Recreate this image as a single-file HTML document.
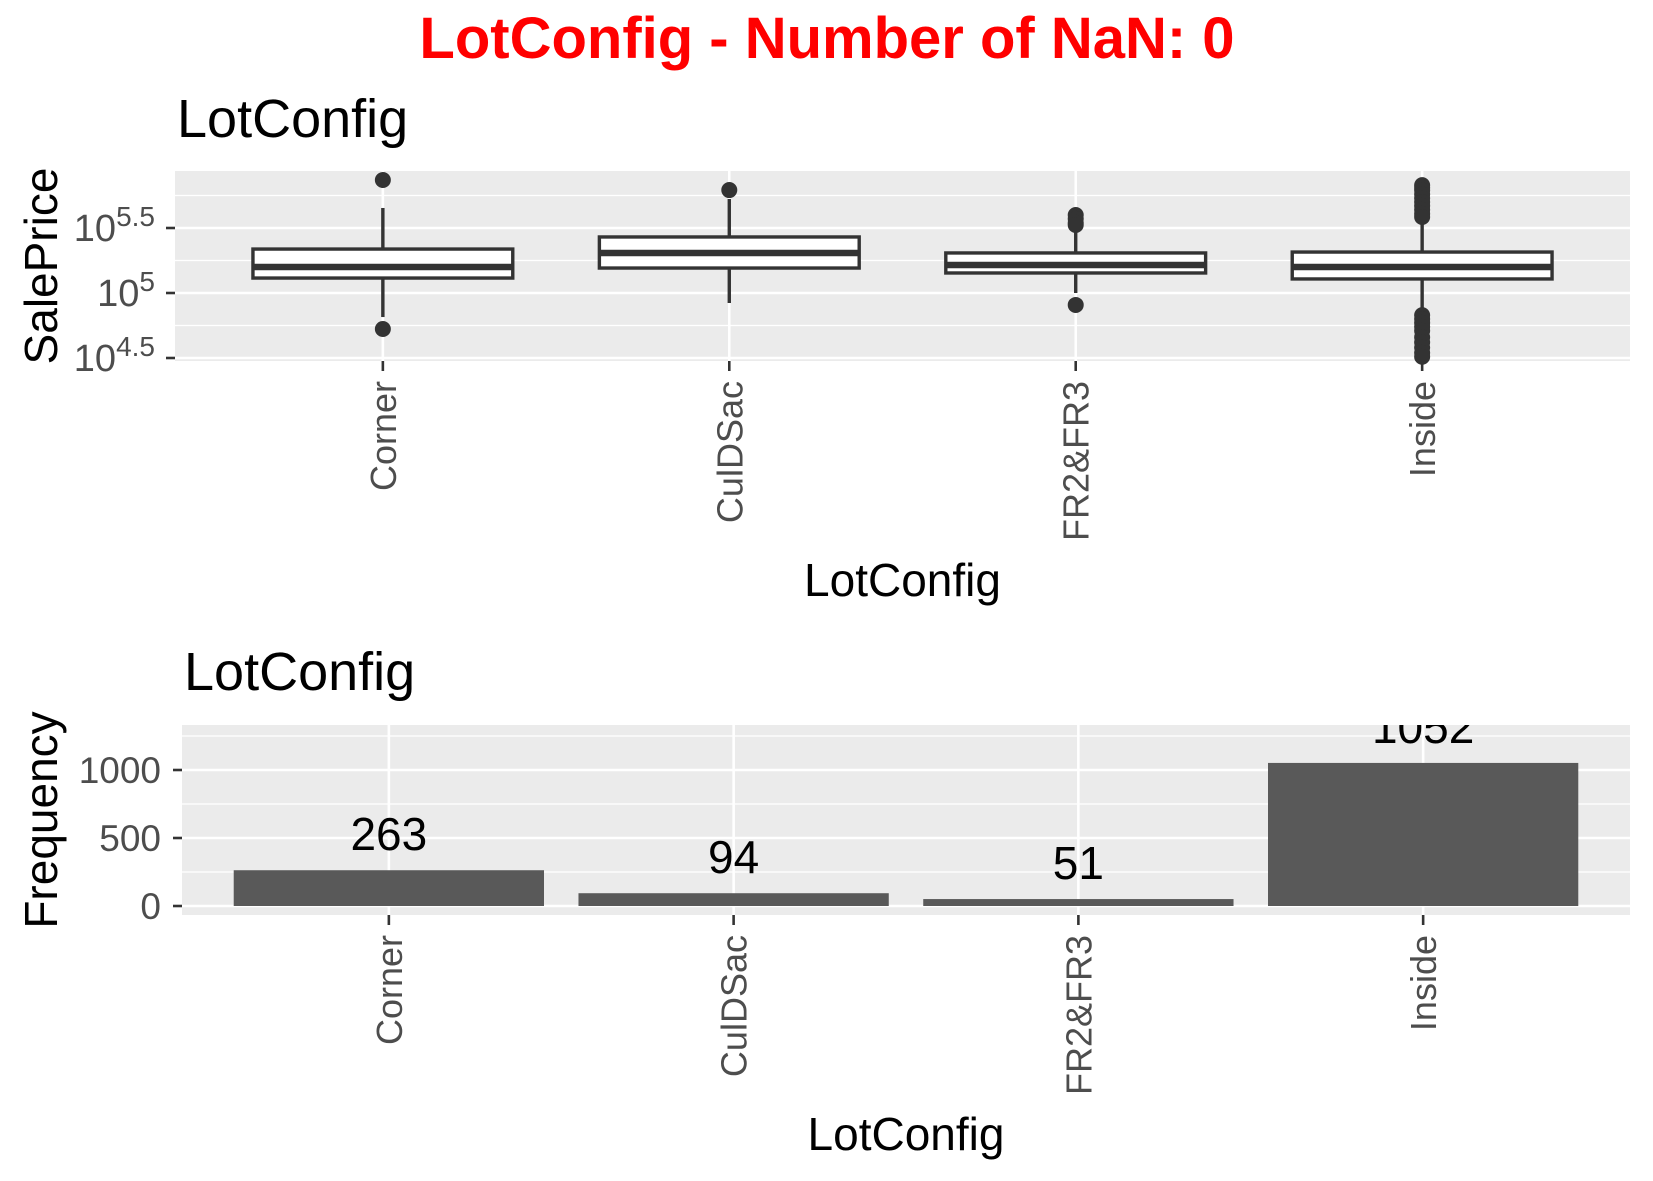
<!DOCTYPE html>
<html><head><meta charset="utf-8"><style>
html,body{margin:0;padding:0;background:#fff;}
svg{display:block;font-family:"Liberation Sans",Arial,sans-serif;}
</style></head><body>
<svg id="chart" width="1653" height="1181" viewBox="0 0 1653 1181" xmlns="http://www.w3.org/2000/svg">
<text x="827" y="58" text-anchor="middle" font-weight="bold" font-size="58" fill="#ff0000">LotConfig - Number of NaN: 0</text>
<g id="box"></g>
<g id="bar"></g>
</svg>
<script>
const categories = ["Corner","CulDSac","FR2&FR3","Inside"];
// log10 SalePrice box stats
const q1 = [5.115, 5.192, 5.154, 5.108];
const med = [5.20, 5.308, 5.215, 5.20];
const q3 = [5.338, 5.431, 5.308, 5.315];
const wLow = [4.815, 4.923, 5.0, 4.846];
const wHigh = [5.654, 5.723, 5.469, 5.577];
const outliers = [
  [5.869, 4.723],
  [5.792],
  [5.60, 5.57, 5.54, 5.523, 4.908],
  [5.83, 5.81, 5.79, 5.76, 5.73, 5.70, 5.67, 5.64, 5.61, 5.585, 4.83, 4.80, 4.77, 4.74, 4.71, 4.66, 4.62, 4.58, 4.54, 4.51]
];
const boxTicks = [4.5, 5, 5.5];
const boxTickLabels = ["4.5", "5", "5.5"];
const counts = [263, 94, 51, 1052];
const barTicks = [0, 500, 1000];
const barTickLabels = ["0", "500", "1000"];

const NS = "http://www.w3.org/2000/svg";
function mk(parent, tag, attrs, text) {
  const e = document.createElementNS(NS, tag);
  for (const k in attrs) e.setAttribute(k, attrs[k]);
  if (text !== undefined) e.textContent = text;
  parent.appendChild(e);
  return e;
}

// ---------- Box panel ----------
const box = document.getElementById('box');
const B = {l:175, r:1630, t:171, b:361};
const byScale = v => 293 - (v - 5) * 130;
const bxUnit = (B.r - B.l) / 4.2;
const bx = i => B.l + (0.6 + i) * bxUnit;
let t = mk(box, 'text', {x:177, y:137, 'font-size':54, fill:'#000'}, 'LotConfig');


let bg = mk(box, 'rect', {x:B.l, y:B.t, width:B.r-B.l, height:B.b-B.t, fill:'#ebebeb'});


boxTicks.forEach(v => {
  const m = byScale(v + 0.25);
  if (m > B.t) mk(box, 'line', {x1:B.l, x2:B.r, y1:m, y2:m, stroke:'#fff', 'stroke-width':1.3});
});
boxTicks.forEach((v, i) => {
  const y = byScale(v);
  const g = mk(box, 'line', {x1:B.l, x2:B.r, y1:y, y2:y, stroke:'#fff', 'stroke-width':2.6});
  
  
  mk(box, 'line', {x1:B.l-9, x2:B.l, y1:y, y2:y, stroke:'#333', 'stroke-width':2.6});
  const tx = mk(box, 'text', {x:155, y:y+13, 'font-size':38, fill:'#4d4d4d', 'text-anchor':'end'});
  tx.appendChild(document.createTextNode('10'));
  mk(tx, 'tspan', {dy:-15, 'font-size':28}, boxTickLabels[i]);
  
  
});
categories.forEach((c, i) => {
  const x = bx(i);
  mk(box, 'line', {x1:x, x2:x, y1:B.t, y2:B.b, stroke:'#fff', 'stroke-width':2.6});
  mk(box, 'line', {x1:x, x2:x, y1:B.b, y2:B.b+10, stroke:'#333', 'stroke-width':2.6});
  const lb = mk(box, 'text', {transform:`translate(${x+13},381) rotate(-90)`, 'font-size':36, fill:'#4d4d4d', 'text-anchor':'end'}, c);
  
  
});
categories.forEach((c, i) => {
  const x = bx(i), w = bxUnit * 0.75;
  const g = mk(box, 'g', {});
  
  
  mk(g, 'line', {x1:x, x2:x, y1:byScale(wHigh[i]), y2:byScale(q3[i]), stroke:'#333', 'stroke-width':3.4});
  mk(g, 'line', {x1:x, x2:x, y1:byScale(q1[i]), y2:byScale(wLow[i]), stroke:'#333', 'stroke-width':3.4});
  mk(g, 'rect', {x:x-w/2, y:byScale(q3[i]), width:w, height:byScale(q1[i])-byScale(q3[i]), fill:'#fff', stroke:'#333', 'stroke-width':3.4});
  mk(g, 'line', {x1:x-w/2, x2:x+w/2, y1:byScale(med[i]), y2:byScale(med[i]), stroke:'#333', 'stroke-width':6.5});
  outliers[i].forEach(v => {
    const p = mk(g, 'circle', {cx:x, cy:byScale(v), r:8, fill:'#333'});
    
    
  });
});
t = mk(box, 'text', {x:(B.l+B.r)/2, y:596, 'font-size':46, fill:'#000', 'text-anchor':'middle'}, 'LotConfig');


t = mk(box, 'text', {transform:`translate(57,266) rotate(-90)`, 'font-size':46, fill:'#000', 'text-anchor':'middle'}, 'SalePrice');



// ---------- Bar panel ----------
const bar = document.getElementById('bar');
const P = {l:182, r:1630, t:725, b:915};
const yScale = v => 906 - v * 0.136;
const unit = (P.r - P.l) / 4.2;
const xc = i => P.l + (0.6 + i) * unit;
t = mk(bar, 'text', {x:184, y:690, 'font-size':54, fill:'#000'}, 'LotConfig');


bg = mk(bar, 'rect', {x:P.l, y:P.t, width:P.r-P.l, height:P.b-P.t, fill:'#ebebeb'});


barTicks.forEach(v => {
  const m = yScale(v + 250);
  if (m > P.t) mk(bar, 'line', {x1:P.l, x2:P.r, y1:m, y2:m, stroke:'#fff', 'stroke-width':1.3});
});
barTicks.forEach((v, i) => {
  const y = yScale(v);
  const g = mk(bar, 'line', {x1:P.l, x2:P.r, y1:y, y2:y, stroke:'#fff', 'stroke-width':2.6});
  
  
  mk(bar, 'line', {x1:P.l-9, x2:P.l, y1:y, y2:y, stroke:'#333', 'stroke-width':2.6});
  const tx = mk(bar, 'text', {x:161, y:y+13, 'font-size':37, fill:'#4d4d4d', 'text-anchor':'end'}, barTickLabels[i]);
  
  
});
categories.forEach((c, i) => {
  const x = xc(i);
  mk(bar, 'line', {x1:x, x2:x, y1:P.t, y2:P.b, stroke:'#fff', 'stroke-width':2.6});
  mk(bar, 'line', {x1:x, x2:x, y1:P.b, y2:P.b+10, stroke:'#333', 'stroke-width':2.6});
  const lb = mk(bar, 'text', {transform:`translate(${x+13},935) rotate(-90)`, 'font-size':36, fill:'#4d4d4d', 'text-anchor':'end'}, c);
  
  
});
categories.forEach((c, i) => {
  const x = xc(i), w = unit * 0.9;
  const r = mk(bar, 'rect', {x:x-w/2, y:yScale(counts[i]), width:w, height:yScale(0)-yScale(counts[i]), fill:'#595959'});
  
  
});
const clip = mk(bar, 'clipPath', {id:'pclip'});
mk(clip, 'rect', {x:0, y:P.t, width:1653, height:400});
categories.forEach((c, i) => {
  const lb = mk(bar, 'text', {x:xc(i), y:yScale(counts[i]) - 20, 'font-size':46, fill:'#000', 'text-anchor':'middle', 'clip-path':'url(#pclip)'}, String(counts[i]));
  
  
});
t = mk(bar, 'text', {x:(P.l+P.r)/2, y:1150, 'font-size':46, fill:'#000', 'text-anchor':'middle'}, 'LotConfig');


t = mk(bar, 'text', {transform:`translate(57,820) rotate(-90)`, 'font-size':46, fill:'#000', 'text-anchor':'middle'}, 'Frequency');


</script>
</body></html>
